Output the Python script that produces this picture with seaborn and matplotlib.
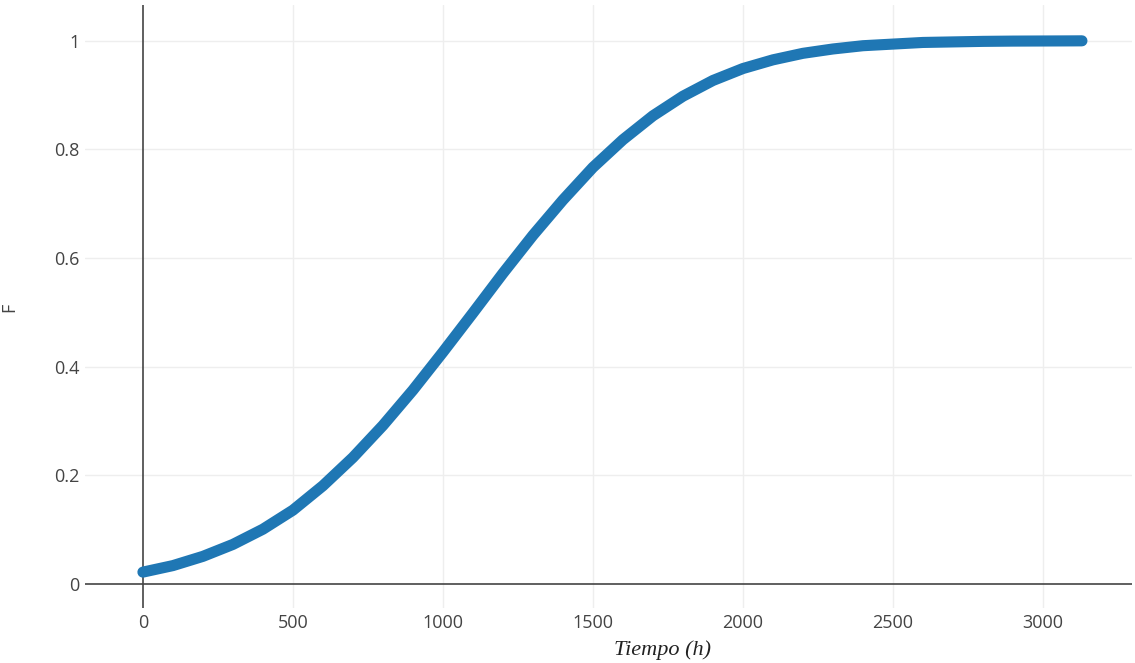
import matplotlib
matplotlib.use('Agg')
import matplotlib.pyplot as plt
import seaborn as sns
import pandas as pd

# valores (tiempo en horas, F acumulada)
tiempo = [0, 100, 200, 300, 400, 500, 600, 700, 800, 900, 1000, 1100, 1200, 1300,
          1400, 1500, 1600, 1700, 1800, 1900, 2000, 2100, 2200, 2300, 2400, 2500,
          2600, 2700, 2800, 2900, 3000, 3100, 3130]
F = [0.022, 0.034, 0.051, 0.073, 0.101, 0.136, 0.181, 0.233, 0.292, 0.357, 0.427,
     0.499, 0.572, 0.642, 0.707, 0.767, 0.818, 0.862, 0.898, 0.927, 0.949, 0.965,
     0.977, 0.985, 0.991, 0.994, 0.997, 0.998, 0.999, 0.9995, 0.9997, 0.9999, 1.0]
xticks = [0, 500, 1000, 1500, 2000, 2500, 3000]
yticks = [0, 0.2, 0.4, 0.6, 0.8, 1]
ytick_labels = ['0', '0.2', '0.4', '0.6', '0.8', '1']

df = pd.DataFrame({'Tiempo': tiempo, 'F': F})

sns.set_style('white')
plt.rcParams['font.family'] = ['Open Sans', 'DejaVu Sans']

fig = plt.figure(figsize=(11.35, 6.63), dpi=100)
ax = fig.add_axes([0.0749, 0.083, 0.9225, 0.9095])

# rejilla y lineas del cero estilo plotly
for xv in xticks[1:]:
    ax.axvline(xv, color='#eeeeee', lw=1, zorder=0)
for yv in yticks[1:]:
    ax.axhline(yv, color='#eeeeee', lw=1, zorder=0)
ax.axvline(0, color='#444444', lw=1.2, zorder=1)
ax.axhline(0, color='#444444', lw=1.2, zorder=1)

sns.lineplot(data=df, x='Tiempo', y='F', ax=ax, color='#1f77b4', linewidth=8,
             solid_capstyle='round', solid_joinstyle='round', zorder=3)

ax.set_xlim(-193, 3297)
ax.set_ylim(-0.044, 1.066)
ax.set_xticks(xticks)
ax.set_yticks(yticks)
ax.set_yticklabels(ytick_labels)
ax.tick_params(length=0, labelsize=13, colors='#444444', pad=4)
for s in ax.spines.values():
    s.set_visible(False)

ax.set_xlabel('Tiempo (h)', family='Liberation Serif', style='italic', fontsize=16,
              color='#222222', va='center')
ax.xaxis.set_label_coords(0.552, -0.07)
ax.set_ylabel('F', fontsize=13, color='#444444')
ax.yaxis.set_label_coords(-0.064, 0.499)

fig.savefig('out.png', dpi=100)
